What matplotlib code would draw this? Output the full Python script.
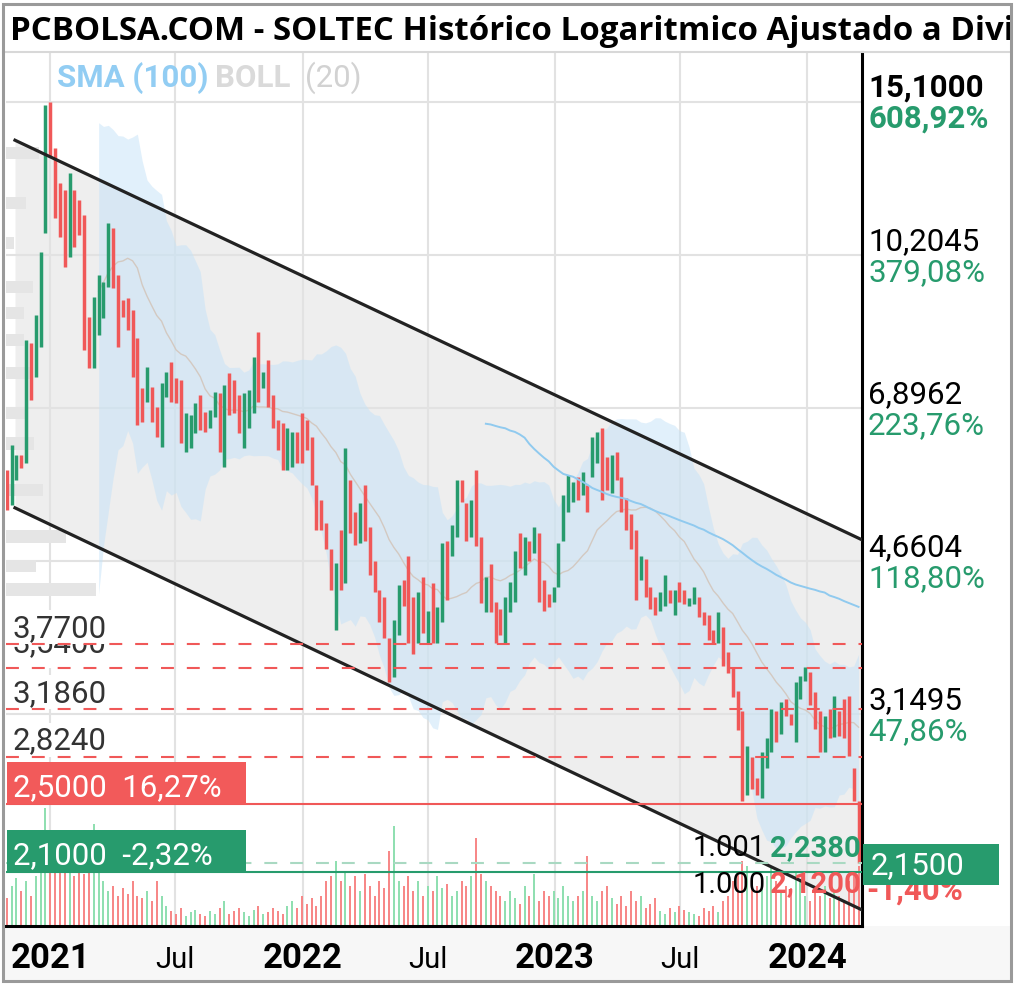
import numpy as np
import pandas as pd
import matplotlib
matplotlib.use('Agg')
import matplotlib.pyplot as plt
import matplotlib.dates as mdates
import matplotlib.ticker as mticker
from matplotlib.collections import LineCollection
from matplotlib.patches import Rectangle
from matplotlib.lines import Line2D
from matplotlib.transforms import IdentityTransform, blended_transform_factory

plt.rcParams['font.family'] = ['Roboto', 'DejaVu Sans']

W, H = 1016, 986
GREEN = '#279b6d'
RED = '#f05858'

# ---- data (weekly candles) ----
first_week = '2020-10-30'
opens = [
    5.88, 5.38, 5.74, 6.11, 5.99, 8.15, 7.47, 8.06, 10.80, 15.10,
    13.42, 12.27, 12.05, 10.16, 12.05, 11.75, 11.30, 8.71, 7.64, 8.31,
    8.69, 9.40, 10.94, 9.70, 9.10, 9.15, 8.87, 8.25, 7.26, 7.00,
    7.28, 6.91, 6.24, 7.09, 7.76, 7.45, 7.41, 6.16, 6.22, 6.47,
    7.13, 6.83, 6.55, 6.74, 7.17, 5.93, 7.54, 7.41, 7.13, 6.22,
    6.55, 6.81, 8.38, 7.26, 7.80, 7.13, 6.69, 6.64, 5.88, 5.93,
    6.49, 6.81, 6.69, 6.40, 5.66, 5.45, 5.14, 4.80, 3.91, 5.05,
    4.41, 5.74, 5.28, 4.88, 5.66, 5.09, 4.66, 4.33, 4.25, 3.83,
    3.46, 3.86, 4.44, 4.72, 4.25, 3.78, 4.47, 3.78, 4.41, 3.78,
    3.99, 4.90, 4.72, 4.96, 5.74, 5.41, 4.96, 5.88, 4.96, 4.09,
    4.62, 4.20, 4.12, 3.78, 4.09, 4.20, 5.01, 4.50, 4.90, 4.76,
    5.01, 4.44, 4.28, 4.20, 4.36, 4.90, 5.28, 5.42, 5.78, 5.52,
    5.66, 5.78, 5.99, 6.55, 6.08, 5.55, 6.16, 5.78, 5.48, 5.25,
    5.05, 4.44, 4.68, 4.36, 4.25, 4.10, 4.15, 4.33, 4.06, 4.42,
    4.33, 4.15, 4.17, 4.25, 4.09, 4.06, 3.91, 3.78, 3.94, 3.69, 3.55,
    3.34, 3.17, 2.56, 2.82, 2.67, 2.54, 2.74, 2.86, 3.17, 2.99,
    3.27, 3.15, 2.93, 3.27, 3.43, 3.51, 3.33, 3.17, 2.86, 3.19, 2.97,
    3.17, 3.27, 3.30, 2.74, 2.52,
]
closes = [
    5.31, 6.27, 6.11, 5.91, 8.21, 7.04, 8.75, 10.29, 14.98, 13.11,
    11.22, 10.68, 9.90, 12.58, 10.42, 10.74, 8.00, 7.64, 9.17, 9.70,
    9.53, 11.08, 9.38, 8.06, 8.71, 8.42, 7.47, 6.60, 6.66, 7.66,
    6.66, 6.40, 7.35, 7.56, 7.00, 6.99, 6.30, 6.81, 6.78, 6.99,
    6.52, 6.49, 6.86, 7.18, 6.16, 7.32, 6.78, 6.81, 6.47, 7.17,
    7.22, 7.86, 7.00, 7.56, 6.91, 6.55, 6.19, 5.88, 6.55, 6.49,
    5.99, 5.99, 6.19, 5.66, 5.05, 5.05, 4.80, 4.33, 4.64, 4.33,
    6.22, 5.01, 4.86, 5.41, 4.90, 4.50, 4.30, 3.99, 3.83, 3.42,
    4.01, 4.38, 4.15, 3.78, 3.67, 4.30, 3.88, 4.10, 3.78, 4.14,
    4.88, 4.22, 5.11, 5.74, 5.42, 4.90, 5.45, 4.84, 4.19, 4.47,
    4.09, 3.78, 3.86, 4.25, 4.42, 4.78, 4.58, 4.95, 4.66, 5.09,
    4.20, 4.10, 4.14, 4.36, 4.88, 5.52, 5.81, 5.71, 5.45, 5.85,
    5.28, 6.40, 6.49, 5.45, 5.59, 6.11, 5.74, 5.28, 5.05, 4.80,
    4.22, 4.72, 4.25, 4.12, 4.06, 4.30, 4.50, 4.19, 4.33, 4.20,
    4.17, 4.24, 4.36, 4.04, 3.96, 3.81, 3.78, 4.09, 3.56, 3.50, 3.29,
    3.02, 2.52, 2.90, 2.60, 2.56, 2.86, 2.96, 3.19, 2.93, 3.25,
    3.13, 3.06, 3.42, 3.47, 3.55, 3.22, 3.03, 2.86, 3.13, 2.96, 3.30,
    2.98, 2.96, 2.83, 2.52, 2.15,
]
volumes = [
    28, 40, 48, 35, 45, 30, 50,
    70, 118, 90, 80, 60,
    55, 70, 50, 60,
    52, 75, 102, 55, 45,
    35, 40, 30, 38, 32,
    45, 30, 28,
    35, 25, 45, 30, 20,
    15, 12, 18, 10, 14, 16, 12, 10, 15, 12, 18,
    25,
    12, 15, 18, 14, 10, 16, 20, 12, 14, 18, 15, 12,
    20, 25, 18, 30, 22,
    28,
    20, 30, 45, 50,
    65, 45, 55, 40, 50,
    35, 52, 40, 30, 45, 38,
    75, 100,
    45, 40, 50, 35, 45, 30, 40, 35, 50, 38, 42, 30, 35, 45,
    40, 50, 88,
    52, 45, 40, 35,
    30, 25, 35, 28, 22, 40, 30, 52, 25, 35, 30,
    35, 28, 40, 30, 25, 30, 35, 70,
    30, 25, 35, 40, 28, 22, 30, 20, 35, 25, 30, 18, 22, 28,
    15, 12, 18, 14, 20, 16, 14, 12, 10, 18, 15, 20, 14,
    25, 30, 45, 55, 65, 60, 50, 40, 45,
    50, 60, 45, 35, 40, 38, 55, 45, 30, 25, 35, 30, 40, 28, 35, 30, 25, 45, 55, 60,
]
vol_axis_max = 874

# volume profile on the left edge
profile_prices = [13.25, 11.66, 10.52, 9.40, 8.80, 8.21, 7.54, 6.81, 6.30, 5.59, 4.96, 4.60, 4.33]
profile_sizes = [33, 20, 8, 27, 18, 18, 25, 22, 28, 37, 60, 30, 90]

# trend channel
channel_dates = ['2020-11-11', '2024-03-20']
channel_upper = [13.69, 4.92]
channel_lower = [5.34, 1.907]

# horizontal levels
support_levels = [2.824, 3.186, 3.54, 3.77]
support_labels = ['2,8240', '3,1860', '3,5400', '3,7700']
resist_level, resist_label = 2.50, '2,5000  16,27%'
stop_level, stop_label = 2.10, '2,1000  -2,32%'
last_price, last_label, last_change = 2.15, '2,1500', '-1,40%'
fib_prices = [2.238, 2.12]
fib_ratios = ['1.001', '1.000']
fib_labels = ['2,2380', '2,1200']

axis_prices = [15.1, 10.2045, 6.8962, 4.6604, 3.1495]
axis_price_labels = ['15,1000', '10,2045', '6,8962', '4,6604', '3,1495']
axis_pct_labels = ['608,92%', '379,08%', '223,76%', '118,80%', '47,86%']

tick_dates = ['2021-01-01', '2021-07-01', '2022-01-01', '2022-07-01',
              '2023-01-01', '2023-07-01', '2024-01-01']
tick_labels = ['2021', 'Jul', '2022', 'Jul', '2023', 'Jul', '2024']

title = 'PCBOLSA.COM - SOLTEC Histórico Logaritmico Ajustado a Divi'

# ---- figure ----
fig = plt.figure(figsize=(W / 100, H / 100), dpi=100)
ax = fig.add_axes([6 / W, 60 / H, 856 / W, 874 / H])
ax.set_yscale('log')
ax.set_ylim(1.83, 17.16)
ax.set_xlim(mdates.datestr2num('2020-10-29'), mdates.datestr2num('2024-03-20'))
I = IdentityTransform()

dates = pd.date_range(first_week, periods=len(closes), freq='7D')
xs = mdates.date2num(dates)
o = np.array(opens)
c = np.array(closes)
up = c >= o

# channel
cx = mdates.datestr2num(channel_dates)
ax.fill_between(cx, channel_lower, channel_upper, color='#eeeeee', lw=0, zorder=0.2)

# grid
ax.set_yticks(axis_prices)
ax.yaxis.set_minor_locator(mticker.NullLocator())
ax.yaxis.set_major_formatter(mticker.NullFormatter())
ax.set_xticks(mdates.datestr2num(tick_dates))
ax.set_xticklabels(tick_labels)
ax.set_axisbelow(True)
ax.grid(True, color='#e2e2e2', lw=1.5)
ax.tick_params(length=0, labelleft=False)
ax.tick_params(axis='x', pad=30)
for lbl in ax.get_xticklabels():
    lbl.set_va('baseline')
    if lbl.get_text() == 'Jul':
        lbl.set_fontsize(21)
    else:
        lbl.set_fontsize(25)
        lbl.set_fontweight('bold')

# volume profile
ax.barh(profile_prices, np.array(profile_sizes) / 856, left=0,
        height=np.array(profile_prices) * 0.032, color='#e5e5e5', lw=0,
        transform=blended_transform_factory(ax.transAxes, ax.transData), zorder=0.6)

# bollinger (20) and sma (100)
s = pd.Series(closes)
mid = s.rolling(20).mean()
sd = s.rolling(20).std(ddof=0)
ax.fill_between(xs, (mid - 2 * sd).clip(lower=1.0), mid + 2 * sd,
                color='#c4e2f8', alpha=0.5, lw=0, zorder=1)
ax.plot(xs, mid, color='#d3c9c1', lw=1.0, zorder=1.1)
ax.plot(xs, s.rolling(100).mean(), color='#90caef', lw=1.4, zorder=2.5)

# volume
vtrans = blended_transform_factory(ax.transData, ax.transAxes)
segs = [[(x, 0), (x, v / vol_axis_max)] for x, v in zip(xs, volumes)]
ax.add_collection(LineCollection(segs, colors=np.where(up, '#8ddfaf', '#f78585'),
                                 linewidths=1.4, transform=vtrans, zorder=1.5))

# candles
ax.vlines(xs, o, c, colors=np.where(up, GREEN, RED), lw=2.5, zorder=2)

# channel lines
ax.plot(cx, channel_upper, color='#222222', lw=2.3, zorder=3)
ax.plot(cx, channel_lower, color='#222222', lw=2.3, zorder=3)


def ypx(price):
    return ax.transData.transform((ax.get_xlim()[0], price))[1]


# support levels with labels
for k, (lev, lab) in enumerate(zip(support_levels, support_labels)):
    y0 = ypx(lev)
    off = 16 if lab == '3,5400' else 7
    ax.add_patch(Rectangle((8, y0), 102, 34, transform=I, fc='white', ec='none', zorder=4 + k * 0.1))
    ax.text(13, y0 + off, lab, transform=I, fontsize=22.5, color='#333333',
            va='baseline', zorder=4.05 + k * 0.1)
    ax.axhline(lev, color=RED, lw=1.5, ls=(0, (6.2, 6.2)), zorder=6)

ax.axhline(resist_level, color=RED, lw=1.5, zorder=6)
ax.axhline(stop_level, color=GREEN, lw=1.5, zorder=6)
ax.axhline(last_price, color='#a9d9c2', lw=1.5, ls=(0, (6.2, 6.2)), zorder=5.9)

for lev, lab, col in [(resist_level, resist_label, '#f25a5a'), (stop_level, stop_label, GREEN)]:
    y0 = ypx(lev)
    ax.add_patch(Rectangle((7, y0), 239, 42, transform=I, fc=col, ec='none', zorder=7))
    ax.text(13, y0 + 8, lab, transform=I, fontsize=22.5, color='white', va='baseline', zorder=7.1)

for p, ratio, lab, off, col in zip(fib_prices, fib_ratios, fib_labels, [-8.5, -24], [GREEN, RED]):
    y0 = ypx(p) + off
    ax.text(693, y0, ratio, transform=I, fontsize=21, color='black', va='baseline', zorder=10)
    ax.text(861, y0, lab, transform=I, fontsize=21, color=col, fontweight='bold',
            ha='right', va='baseline', zorder=10)

# spines
for side in ['left', 'top']:
    ax.spines[side].set_visible(False)
for side in ['right', 'bottom']:
    ax.spines[side].set_color('black')
    ax.spines[side].set_linewidth(2.2)

# right axis labels
for p, pl, pc in zip(axis_prices, axis_price_labels, axis_pct_labels):
    y0 = ypx(p)
    bold = 'bold' if pl == '15,1000' else 'normal'
    fig.text(868, y0 + 5, pl, transform=I, fontsize=22.5, color='black', fontweight=bold, va='baseline')
    fig.text(868, y0 - 26, pc, transform=I, fontsize=22.5, color=GREEN, fontweight=bold, va='baseline')

y0 = ypx(last_price)
fig.text(866, y0 - 36, last_change, transform=I, fontsize=22.5, color=RED,
         fontweight='bold', va='baseline', zorder=3)
fig.add_artist(Rectangle((863, y0 - 22), 136, 41, transform=I, fc=GREEN, ec='none', zorder=4))
fig.text(871, y0 - 11, last_label, transform=I, fontsize=22.5, color='white', va='baseline', zorder=5)

# legend
fig.text(57, H - 87, 'SMA (100)', transform=I, fontsize=22.5, color='#92cdf3', fontweight='bold', va='baseline')
fig.text(215, H - 87, 'BOLL', transform=I, fontsize=22.5, color='#dadada', fontweight='bold', va='baseline')
fig.text(305, H - 87, '(20)', transform=I, fontsize=22.5, color='#d2d2d2', va='baseline')

# title and frame
fig.text(10, H - 40, title, transform=I, fontsize=23.8, fontweight='bold',
         family=['Open Sans', 'DejaVu Sans'], color='black', va='baseline', zorder=1)
fig.add_artist(Rectangle((3, 5), 1008, 55, transform=I, fc='#f7f7f7', ec='none', zorder=0))
fig.add_artist(Line2D([3, 1011], [H - 52, H - 52], transform=I, color='#d8d8d8', lw=1.5, zorder=2))
fig.add_artist(Rectangle((1011, 0), 5, H, transform=I, fc='white', ec='none', zorder=8))
fig.add_artist(Rectangle((3, 5), 1008, 977, transform=I, fill=False, ec='#9a9a9a', lw=2.2, zorder=9))

fig.savefig('out.png', dpi=100)
